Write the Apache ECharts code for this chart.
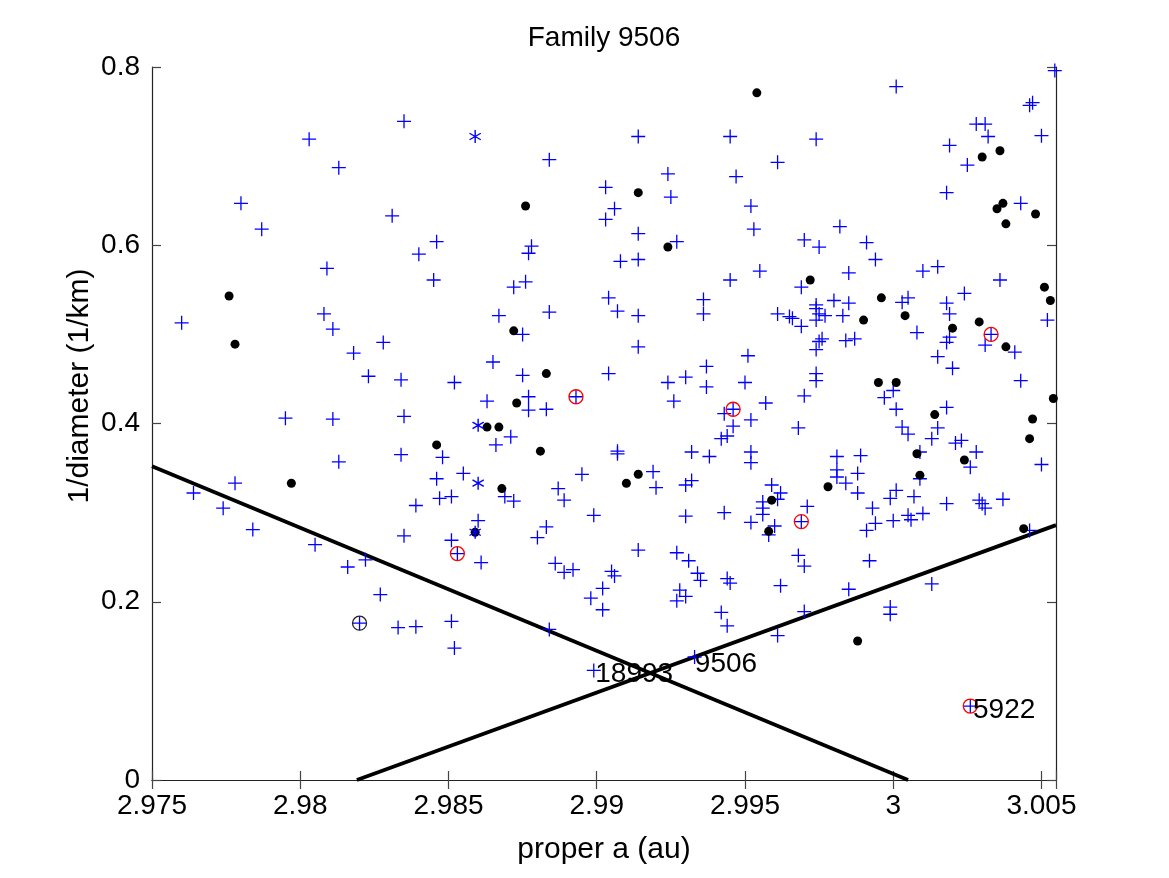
<!DOCTYPE html>
<html><head><meta charset="utf-8">
<script src="https://cdn.jsdelivr.net/npm/echarts@6/dist/echarts.min.js"></script>
<style>html,body{margin:0;padding:0;background:#fff}#c{width:1169px;height:878px}</style>
</head><body><div id="c"></div>
<script>
const titleText = 'Family 9506';
const xName = 'proper a (au)';
const yName = '1/diameter (1/km)';
const xRange = [2.975, 3.00549];
const yRange = [0, 0.8];
const xStep = 0.005;
const yStep = 0.2;

const plusPoints = [
[2.9835,0.739],[2.9803,0.719],[2.9813,0.687],[2.9780,0.647],[2.9787,0.618],[2.9831,0.633],[2.9846,0.604],[2.9840,0.590],[2.9845,0.561],[2.9809,0.574],
[2.9884,0.696],[2.9914,0.722],[2.9945,0.722],[2.9924,0.680],[2.9947,0.677],[2.9903,0.665],[2.9925,0.654],[2.9952,0.644],[2.9906,0.641],[2.9903,0.629],
[2.9953,0.618],[2.9914,0.613],[2.9878,0.599],[2.9877,0.591],[2.9927,0.604],[2.9914,0.584],[2.9908,0.582],[2.9945,0.561],[2.9872,0.553],[2.9876,0.559],
[2.9904,0.541],[2.9936,0.539],[2.9955,0.571],[3.0001,0.778],[3.00545,0.796],[3.0047,0.760],[3.0046,0.757],[2.9974,0.719],[2.9961,0.693],[3.0028,0.736],
[3.0031,0.736],[3.0032,0.722],[3.0050,0.723],[3.0019,0.712],[3.0025,0.690],[3.0018,0.659],[3.0043,0.647],[2.9982,0.621],[2.9970,0.606],[2.9975,0.598],
[2.9991,0.603],[2.9994,0.584],[2.9985,0.569],[3.0010,0.571],[3.0015,0.576],[3.0036,0.561],[2.9969,0.553],[3.0024,0.546],[3.0005,0.541],[3.0003,0.536],
[2.9980,0.538],[3.0018,0.535],[2.9985,0.535],[2.9974,0.533],[2.9760,0.513],[2.9808,0.523],[2.9811,0.506],[2.9828,0.491],[2.9818,0.479],[2.9823,0.453],
[2.9834,0.449],[2.9852,0.446],[2.9795,0.406],[2.9811,0.405],[2.9835,0.408],[2.9813,0.357],[2.9834,0.365],[2.9848,0.362],[2.9846,0.338],[2.9847,0.316],
[2.9851,0.318],[2.9839,0.308],[2.9778,0.333],[2.9764,0.322],[2.9774,0.305],[2.9784,0.281],[2.9835,0.274],[2.9851,0.269],[2.9805,0.264],[2.9867,0.521],
[2.9884,0.525],[2.9907,0.526],[2.9914,0.521],[2.9936,0.523],[2.9875,0.500],[2.9914,0.486],[2.9865,0.469],[2.9875,0.454],[2.9904,0.456],[2.9951,0.476],
[2.9937,0.464],[2.9930,0.452],[2.9924,0.446],[2.9937,0.441],[2.9950,0.446],[2.9893,0.430],[2.9877,0.430],[2.9863,0.425],[2.9877,0.415],[2.9883,0.416],
[2.9926,0.425],[2.9946,0.416],[2.9943,0.411],[2.9946,0.397],[2.9952,0.404],[2.9942,0.383],[2.9944,0.386],[2.9871,0.385],[2.9866,0.376],[2.9907,0.369],
[2.9907,0.366],[2.9932,0.368],[2.9938,0.363],[2.9952,0.368],[2.9952,0.356],[2.9855,0.344],[2.9895,0.343],[2.9919,0.346],[2.9920,0.328],[2.9932,0.336],
[2.9930,0.331],[2.9869,0.318],[2.9872,0.313],[2.9887,0.327],[2.9889,0.314],[2.9899,0.297],[2.9930,0.296],[2.9943,0.300],[2.9952,0.289],[2.9860,0.291],
[2.9883,0.284],[2.9880,0.272],[2.9961,0.523],[2.9965,0.520],[2.9966,0.518],[2.9969,0.509],[2.9974,0.529],[2.9975,0.523],[2.9977,0.521],[2.9974,0.516],
[2.9983,0.521],[3.0019,0.523],[3.0031,0.488],[3.0041,0.480],[3.0052,0.516],[3.0008,0.502],[3.0019,0.497],[3.0018,0.491],[2.9976,0.495],[2.9975,0.492],
[2.9974,0.483],[2.9984,0.493],[2.9987,0.495],[3.0015,0.475],[3.0020,0.462],[2.9974,0.456],[2.9974,0.448],[3.0000,0.437],[2.9997,0.429],[3.0043,0.448],
[2.9970,0.431],[2.9957,0.423],[3.0001,0.416],[3.0018,0.418],[2.9968,0.395],[3.0003,0.396],[3.0005,0.388],[3.0015,0.395],[3.0013,0.383],[3.0023,0.381],
[3.0021,0.378],[3.0028,0.368],[3.0009,0.368],[3.0026,0.351],[3.0050,0.354],[2.9981,0.363],[2.9981,0.348],[2.9981,0.340],[2.9984,0.333],[2.9989,0.364],
[2.9988,0.344],[3.0009,0.338],[2.9988,0.322],[2.9959,0.331],[2.9962,0.322],[2.9961,0.315],[2.9956,0.312],[2.9956,0.305],[2.9956,0.298],[2.9958,0.275],
[2.9960,0.285],[2.9969,0.290],[2.9971,0.307],[3.0001,0.325],[2.9999,0.316],[3.0007,0.318],[3.0018,0.310],[3.0029,0.314],[3.0030,0.310],[3.0031,0.305],
[3.0037,0.315],[2.9993,0.305],[2.9994,0.288],[2.9991,0.280],[3.0000,0.291],[3.0005,0.297],[3.0006,0.292],[3.0010,0.299],[3.0046,0.280],[2.9816,0.239],
[2.9822,0.247],[2.9827,0.208],[2.9820,0.176],[2.9833,0.171],[2.9839,0.172],[2.9851,0.178],[2.9852,0.148],[2.9853,0.254],[2.9861,0.244],[2.9914,0.258],
[2.9927,0.255],[2.9931,0.246],[2.9934,0.232],[2.9935,0.224],[2.9886,0.243],[2.9889,0.233],[2.9892,0.236],[2.9905,0.234],[2.9906,0.229],[2.9902,0.215],
[2.9898,0.204],[2.9902,0.191],[2.9928,0.213],[2.9930,0.206],[2.9927,0.201],[2.9944,0.226],[2.9945,0.221],[2.9942,0.188],[2.9944,0.173],[2.9884,0.169],
[2.9899,0.123],[2.9933,0.138],[2.9968,0.252],[2.9970,0.240],[2.9992,0.246],[2.9962,0.218],[2.9985,0.214],[3.0013,0.220],[2.9970,0.189],[2.9999,0.194],
[2.9999,0.186],[2.9961,0.162],[3.0026,0.083],[3.0033,0.500]
];

const starPoints = [[2.9859,0.722],[2.9860,0.398],[2.9860,0.333],[2.9859,0.278]];

const dotPoints = [
[2.9776,0.543],[2.9954,0.771],[2.9914,0.659],[2.9876,0.644],[2.9924,0.598],[3.0030,0.699],[3.0036,0.706],[3.0035,0.641],[3.0037,0.647],[3.0048,0.635],
[3.0038,0.624],[2.9972,0.561],[2.9996,0.541],[3.0051,0.553],[3.0055,0.561],[3.0053,0.538],[2.9778,0.489],[2.9846,0.376],[2.9797,0.333],[2.9872,0.504],
[2.9883,0.456],[2.9873,0.423],[2.9863,0.396],[2.9867,0.396],[2.9881,0.369],[2.9914,0.343],[2.9910,0.333],[2.9868,0.327],[2.9859,0.278],[2.9990,0.516],
[3.0004,0.521],[3.0020,0.507],[3.0029,0.514],[3.0038,0.486],[2.9995,0.446],[3.0001,0.446],[3.0054,0.428],[3.0014,0.410],[3.0047,0.405],[3.0046,0.383],
[3.0008,0.366],[3.0024,0.359],[3.0009,0.342],[2.9978,0.329],[2.9959,0.314],[2.9958,0.279],[3.0044,0.282],[2.9988,0.156]
];

const redCirclePoints = [[2.9893,0.430],[2.9946,0.416],[3.0033,0.500],[2.9969,0.290],[2.9853,0.254],[3.0026,0.083]];
const blackCirclePoints = [[2.9820,0.176]];

const lineA = [[2.975,0.352],[3.0005,0]];
const lineB = [[2.98191,0],[3.00549,0.286]];

const textLabels = [[2.98995,0.119,'18993'],[2.99331,0.130,'9506'],[3.00269,0.0785,'5922']];

const FONT = '"Liberation Sans", Arial, Helvetica, sans-serif';
const chart = echarts.init(document.getElementById('c'), null, {renderer:'canvas'});

function xFmt(v){
  const k = v / xStep;
  if (Math.abs(k - Math.round(k)) > 1e-6) return '';
  return String(parseFloat(v.toFixed(3)));
}
function yFmt(v){ return String(parseFloat(v.toFixed(2))); }

const axisCommon = {
  type:'value', splitLine:{show:false},
  axisLine:{show:true, lineStyle:{color:'#222', width:1.2}},
  axisTick:{show:true, inside:true, length:9, lineStyle:{color:'#444', width:1.2}}
};

const PLUS = 'path://M5,0L5,10M0,5L10,5';
const STAR = 'path://M5,0L5,10M0.67,2.5L9.33,7.5M0.67,7.5L9.33,2.5';

chart.setOption({
  animation:false,
  backgroundColor:'#fff',
  textStyle:{fontFamily:FONT},
  grid:{left:152, top:67, width:904, height:713, containLabel:false},
  xAxis:[
    Object.assign({}, axisCommon, {position:'bottom', min:xRange[0], max:xRange[1], interval:xStep,
      axisLabel:{show:true, formatter:xFmt, fontSize:28, color:'#000', fontFamily:FONT, margin:12, showMaxLabel:true}}),
    Object.assign({}, axisCommon, {position:'top', min:xRange[0], max:xRange[1], interval:xStep, axisLabel:{show:false}})
  ],
  yAxis:[
    Object.assign({}, axisCommon, {position:'left', min:yRange[0], max:yRange[1], interval:yStep,
      axisLabel:{show:true, formatter:yFmt, fontSize:28, color:'#000', fontFamily:FONT, margin:12}}),
    Object.assign({}, axisCommon, {position:'right', min:yRange[0], max:yRange[1], interval:yStep, axisLabel:{show:false}})
  ],
  graphic:[
    {type:'text', x:604, y:38, style:{text:titleText, fontSize:28, fontFamily:FONT, fill:'#000', textAlign:'center', textVerticalAlign:'middle'}},
    {type:'text', x:604, y:850, style:{text:xName, fontSize:30, fontFamily:FONT, fill:'#000', textAlign:'center', textVerticalAlign:'middle'}},
    {type:'text', x:80, y:386, rotation:Math.PI/2, style:{text:yName, fontSize:30, fontFamily:FONT, fill:'#000', textAlign:'center', textVerticalAlign:'middle'}}
  ],
  series:[
    {type:'line', data:lineA, symbol:'none', silent:true, lineStyle:{color:'#000', width:3.8}, z:1},
    {type:'line', data:lineB, symbol:'none', silent:true, lineStyle:{color:'#000', width:3.8}, z:1},
    {type:'scatter', data:plusPoints, symbol:PLUS, symbolSize:14, silent:true,
      itemStyle:{color:'#0000ff', borderColor:'#0000ff', borderWidth:1.3, opacity:1}, z:3},
    {type:'scatter', data:dotPoints, symbol:'circle', symbolSize:9, silent:true,
      itemStyle:{color:'#000', opacity:1}, z:4},
    {type:'scatter', data:starPoints, symbol:STAR, symbolSize:13, symbolKeepAspect:true, silent:true,
      itemStyle:{color:'#0000ff', borderColor:'#0000ff', borderWidth:1.4, opacity:1}, z:5},
    {type:'scatter', data:redCirclePoints, symbol:'circle', symbolSize:14, silent:true,
      itemStyle:{color:'rgba(0,0,0,0)', borderColor:'#ff0000', borderWidth:1.3, opacity:1}, z:5},
    {type:'scatter', data:blackCirclePoints, symbol:'circle', symbolSize:14, silent:true,
      itemStyle:{color:'rgba(0,0,0,0)', borderColor:'#222', borderWidth:1.3, opacity:1}, z:5},
    {type:'scatter', data:textLabels, symbolSize:0, silent:true, z:6, itemStyle:{opacity:1},
      label:{show:true, position:'right', distance:0, formatter:p=>p.data[2], fontSize:28, fontFamily:FONT, color:'#000', opacity:1}}
  ]
});
</script>
</body></html>
